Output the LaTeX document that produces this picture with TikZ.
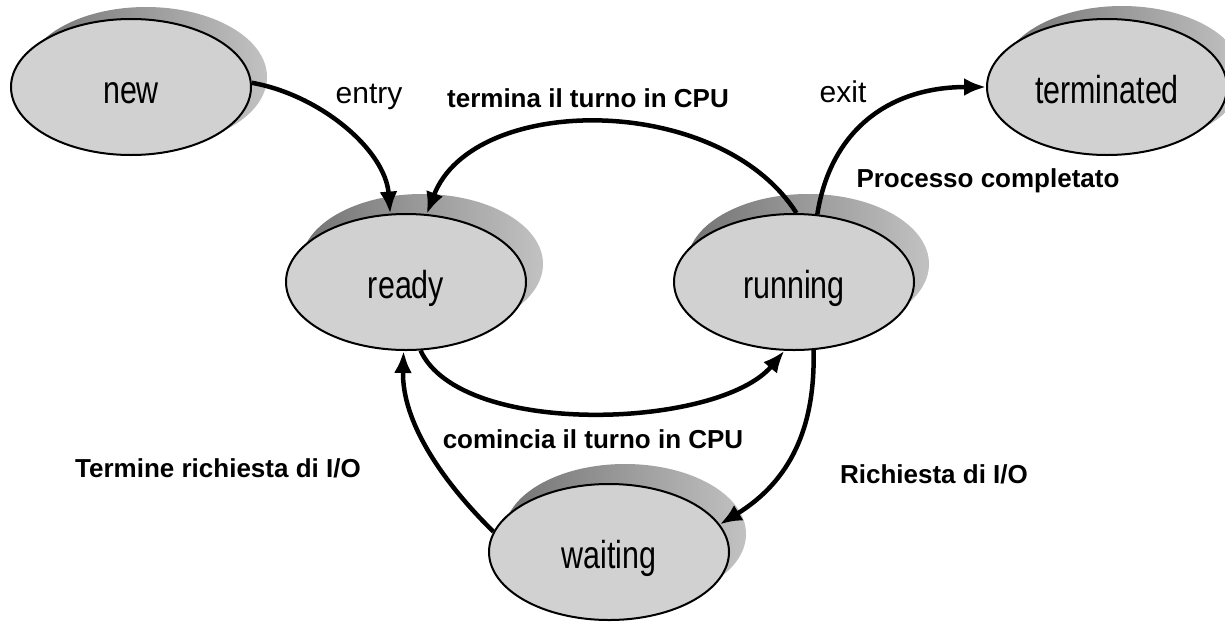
\documentclass[tikz,border=0pt]{standalone}
\usepackage{fontspec}
\setmainfont{Liberation Sans}
\newfontfamily\statefont[FakeStretch=0.78]{Liberation Sans}
\usetikzlibrary{arrows.meta,shapes.geometric,calc}

\tikzset{
  state/.style={ellipse, draw=black, line width=2pt, fill=black!18,
    minimum width=240pt, minimum height=136pt, inner sep=0pt,
    text height=32pt, text depth=0pt,
    font=\statefont\fontsize{39}{44}\selectfont},
  stateshadow/.style={left color=black!55, right color=black!24},
  transition/.style={line width=4.5pt, -{Latex[length=22pt,width=18pt]}},
  edgelabel/.style={font=\fontsize{30}{34}\selectfont, anchor=base, inner sep=0pt},
  boldlabel/.style={font=\bfseries\fontsize{26}{30}\selectfont, anchor=base, inner sep=0pt},
}

\begin{document}
\begin{tikzpicture}[x=1pt, y=-1pt]
  % page area
  \fill[white] (0,0) rectangle (1225,621);
  \useasboundingbox (0,0) rectangle (1225,621);

  % centres of the states
  \coordinate (cnew)  at (131,87);
  \coordinate (cterm) at (1107,87);
  \coordinate (crdy)  at (406,282);
  \coordinate (crun)  at (794,282);
  \coordinate (cwait) at (609,552);

  % soft shadows behind the states
  \shade[stateshadow] ($(cnew)+(15,-10)$)  ellipse [x radius=121pt, y radius=70pt];
  \shade[stateshadow] ($(cterm)+(15,-11)$) ellipse [x radius=121pt, y radius=70pt];
  \shade[stateshadow] ($(crdy)+(16,-18)$)  ellipse [x radius=121pt, y radius=70pt];
  \shade[stateshadow] ($(crun)+(14,-18)$)  ellipse [x radius=121pt, y radius=70pt];
  \shade[stateshadow] ($(cwait)+(16,-18)$) ellipse [x radius=121pt, y radius=70pt];

  % states
  \node[state] (new)  at (cnew)  {new};
  \node[state] (term) at (cterm) {terminated};
  \node[state] (rdy)  at (crdy)  {ready};
  \node[state] (run)  at (crun)  {running};
  \node[state] (wait) at (cwait) {waiting};

  % transitions
  \draw[transition] (new.2) .. controls +(68,12) and +(-5,-64) .. (rdy.103);
  \draw[transition] (run.88) .. controls +(-77,-121) and +(46,-121) .. (rdy.73);
  \draw[transition] (run.71) .. controls +(13,-83) and +(-98,0) .. (term.west);
  \draw[transition] (rdy.-78) .. controls +(40,88) and +(-65,78) .. (run.-98);
  \draw[transition] (run.-74) .. controls +(2,78) and +(70,-43) .. (wait.14);
  \draw[transition] (wait.170) .. controls +(-52,-51) and +(-2,70) .. (rdy.-92);

  % transition labels
  \node[edgelabel] (lentry) at (369,103) {entry};
  \node[edgelabel] (lexit)  at (843,102) {exit};
  \node[boldlabel] (lpreempt) at (588,107) {termina il turno in CPU};
  \node[boldlabel] (ldone)    at (988,187) {Processo completato};
  \node[boldlabel] (ldispatch) at (593,448) {comincia il turno in CPU};
  \node[boldlabel] (liodone)  at (218,477) {Termine richiesta di I/O};
  \node[boldlabel] (lioreq)   at (934,483) {Richiesta di I/O};
\end{tikzpicture}
\end{document}
